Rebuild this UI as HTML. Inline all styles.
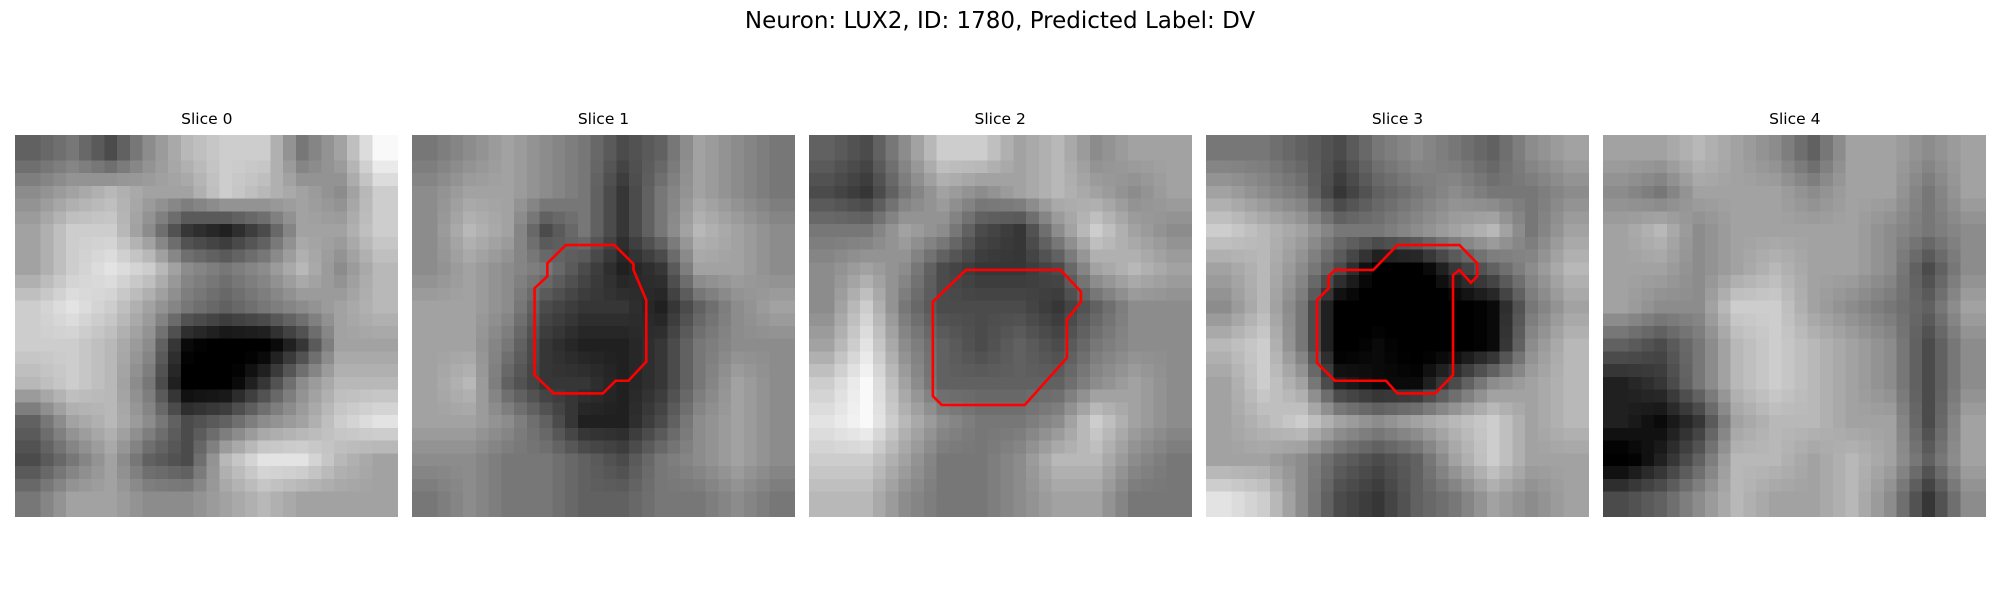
<!DOCTYPE html>
<html><head><meta charset="utf-8"><style>
html,body{margin:0;padding:0;background:#fff;width:2000px;height:600px;overflow:hidden;font-family:"DejaVu Sans","Liberation Sans",sans-serif;}
#title{position:absolute;left:0;width:2000px;top:8px;text-align:center;font-size:23px;color:#000;}
.stitle{position:absolute;width:383px;text-align:center;font-size:15.5px;top:110px;color:#000;}
svg.panel{position:absolute;top:134.5px;width:383px;height:382px;}
</style></head><body>
<div id="title">Neuron: LUX2, ID: 1780, Predicted Label: DV</div>
<div id="root"></div>
<script>
const sliceNames = ["Slice 0","Slice 1","Slice 2","Slice 3","Slice 4"];
const slice0 = [
[.45,.5,.4,.55,.65,.7,.7,.5,.6,.8],
[.55,.6,.65,.6,.6,.7,.65,.6,.55,.7],
[.6,.7,.7,.55,.35,.3,.4,.6,.6,.7],
[.6,.7,.75,.7,.55,.5,.55,.65,.55,.65],
[.7,.75,.7,.6,.5,.45,.5,.55,.6,.65],
[.7,.7,.65,.55,.25,.2,.2,.35,.6,.6],
[.65,.7,.65,.5,.2,.2,.35,.55,.65,.65],
[.45,.6,.65,.55,.4,.45,.55,.6,.7,.75],
[.4,.5,.6,.45,.4,.65,.75,.75,.65,.6],
[.5,.6,.6,.55,.55,.6,.65,.6,.6,.6]];
const slice1 = [
[.5,.55,.6,.55,.5,.4,.45,.6,.55,.5],
[.55,.6,.6,.55,.5,.35,.5,.6,.55,.5],
[.55,.65,.6,.4,.5,.35,.5,.65,.6,.55],
[.55,.6,.55,.5,.4,.3,.35,.6,.6,.55],
[.6,.6,.55,.4,.35,.35,.3,.45,.55,.6],
[.6,.6,.5,.35,.3,.3,.35,.5,.55,.55],
[.6,.65,.45,.35,.35,.3,.35,.5,.6,.55],
[.6,.6,.55,.45,.3,.3,.4,.55,.6,.55],
[.55,.55,.5,.5,.45,.4,.5,.55,.6,.55],
[.5,.55,.5,.5,.45,.45,.5,.5,.55,.5]];
const slice2 = [
[.45,.4,.55,.7,.7,.6,.65,.55,.6,.6],
[.4,.35,.5,.6,.55,.6,.65,.6,.55,.6],
[.5,.5,.6,.55,.4,.35,.55,.7,.6,.55],
[.55,.6,.55,.4,.35,.35,.4,.6,.65,.6],
[.55,.7,.5,.4,.4,.4,.35,.45,.55,.55],
[.6,.75,.55,.45,.4,.45,.4,.5,.55,.55],
[.7,.8,.6,.45,.45,.45,.45,.55,.6,.55],
[.75,.8,.65,.55,.5,.5,.55,.7,.6,.55],
[.7,.7,.6,.5,.5,.55,.65,.65,.55,.5],
[.65,.65,.55,.5,.5,.55,.6,.6,.5,.5]];
const slice3 = [
[.5,.5,.45,.4,.5,.55,.5,.45,.55,.6],
[.6,.55,.5,.35,.45,.5,.55,.5,.5,.55],
[.7,.65,.6,.5,.5,.55,.6,.65,.5,.6],
[.6,.65,.55,.4,.2,.2,.35,.45,.55,.65],
[.55,.65,.5,.2,.2,.15,.2,.25,.5,.6],
[.65,.7,.5,.2,.25,.2,.2,.25,.55,.65],
[.6,.7,.6,.3,.25,.25,.4,.55,.6,.65],
[.6,.65,.7,.6,.55,.6,.65,.7,.6,.65],
[.6,.6,.55,.45,.4,.45,.6,.7,.6,.6],
[.75,.7,.55,.4,.35,.45,.5,.6,.55,.6]];
const slice4 = [
[.6,.6,.65,.6,.55,.45,.6,.6,.55,.6],
[.55,.5,.6,.6,.6,.55,.6,.6,.5,.6],
[.6,.65,.55,.6,.6,.6,.6,.55,.5,.55],
[.6,.6,.55,.6,.65,.6,.6,.55,.4,.55],
[.6,.55,.55,.7,.7,.6,.55,.5,.45,.6],
[.45,.4,.5,.65,.7,.65,.6,.55,.4,.55],
[.3,.35,.5,.65,.7,.65,.6,.55,.4,.55],
[.3,.25,.35,.6,.65,.65,.6,.6,.4,.6],
[.2,.3,.45,.65,.65,.6,.65,.6,.45,.6],
[.4,.45,.55,.65,.6,.6,.65,.55,.35,.55]];
const contour1 = [[12.05,8.64],[15.85,8.64],[17.35,10.13],[17.35,10.6],[18.35,12.96],[18.35,17.8],[16.95,19.3],[15.95,19.3],[14.95,20.3],[11.1,20.3],[9.6,18.85],[9.6,12.04],[10.6,11.1],[10.6,10.08]];
const contour2 = [[12.3,10.6],[19.7,10.6],[21.3,12.3],[21.3,13.1],[20.2,14.5],[20.2,17.5],[16.9,21.2],[10.4,21.2],[9.7,20.5],[9.7,13.1]];
const contour3 = [[15,8.64],[19.85,8.64],[21.25,10.08],[21.25,11.1],[20.75,11.6],[19.85,10.6],[19.35,11],[19.35,18.85],[17.95,20.3],[15,20.3],[14.1,19.3],[10.1,19.3],[8.7,17.9],[8.7,12.96],[9.6,12.04],[9.6,11.1],[10.1,10.6],[13.1,10.6]];
const slices = [slice0,slice1,slice2,slice3,slice4];
const contours = [null,contour1,contour2,contour3,null];
const N = 30;
const CONTRAST = 1.7, MID = 0.55;
const panelX = [15.3,412,808.7,1206,1603.3];
const NS = "http://www.w3.org/2000/svg";
function sample(g,r,c){
  const n=g.length;
  let y=(r+0.5)*n/N-0.5, x=(c+0.5)*n/N-0.5;
  y=Math.max(0,Math.min(n-1,y)); x=Math.max(0,Math.min(n-1,x));
  const y0=Math.floor(y), x0=Math.floor(x), y1=Math.min(n-1,y0+1), x1=Math.min(n-1,x0+1);
  const fy=y-y0, fx=x-x0;
  return (g[y0][x0]*(1-fx)+g[y0][x1]*fx)*(1-fy)+(g[y1][x0]*(1-fx)+g[y1][x1]*fx)*fy;
}
const root=document.getElementById('root');
slices.forEach((g,k)=>{
  const t=document.createElement('div');
  t.className='stitle';
  t.style.left=panelX[k]+'px';
  t.textContent=sliceNames[k];
  
  
  root.appendChild(t);
  const svg=document.createElementNS(NS,'svg');
  svg.setAttribute('class','panel');
  svg.setAttribute('viewBox','0 0 30 30');
  svg.setAttribute('preserveAspectRatio','none');
  svg.setAttribute('shape-rendering','crispEdges');
  svg.style.left=panelX[k]+'px';
  
  
  for(let r=0;r<N;r++)for(let c=0;c<N;c++){
    const s=MID+(sample(g,r,c)-MID)*CONTRAST;
    const v=Math.round(Math.max(0,Math.min(1,s))*255);
    const rc=document.createElementNS(NS,'rect');
    rc.setAttribute('x',c);rc.setAttribute('y',r);
    rc.setAttribute('width',1.02);rc.setAttribute('height',1.02);
    rc.setAttribute('fill',`rgb(${v},${v},${v})`);
    
    
    svg.appendChild(rc);
  }
  const ct=contours[k];
  if(ct){
    const p=document.createElementNS(NS,'polygon');
    p.setAttribute('points',ct.map(q=>q.join(',')).join(' '));
    p.setAttribute('fill','none');
    p.setAttribute('stroke','#ff0000');
    p.setAttribute('stroke-width','2.6');
    p.setAttribute('vector-effect','non-scaling-stroke');
    p.setAttribute('shape-rendering','geometricPrecision');
    
    
    svg.appendChild(p);
  }
  root.appendChild(svg);
});
</script>
</body></html>
